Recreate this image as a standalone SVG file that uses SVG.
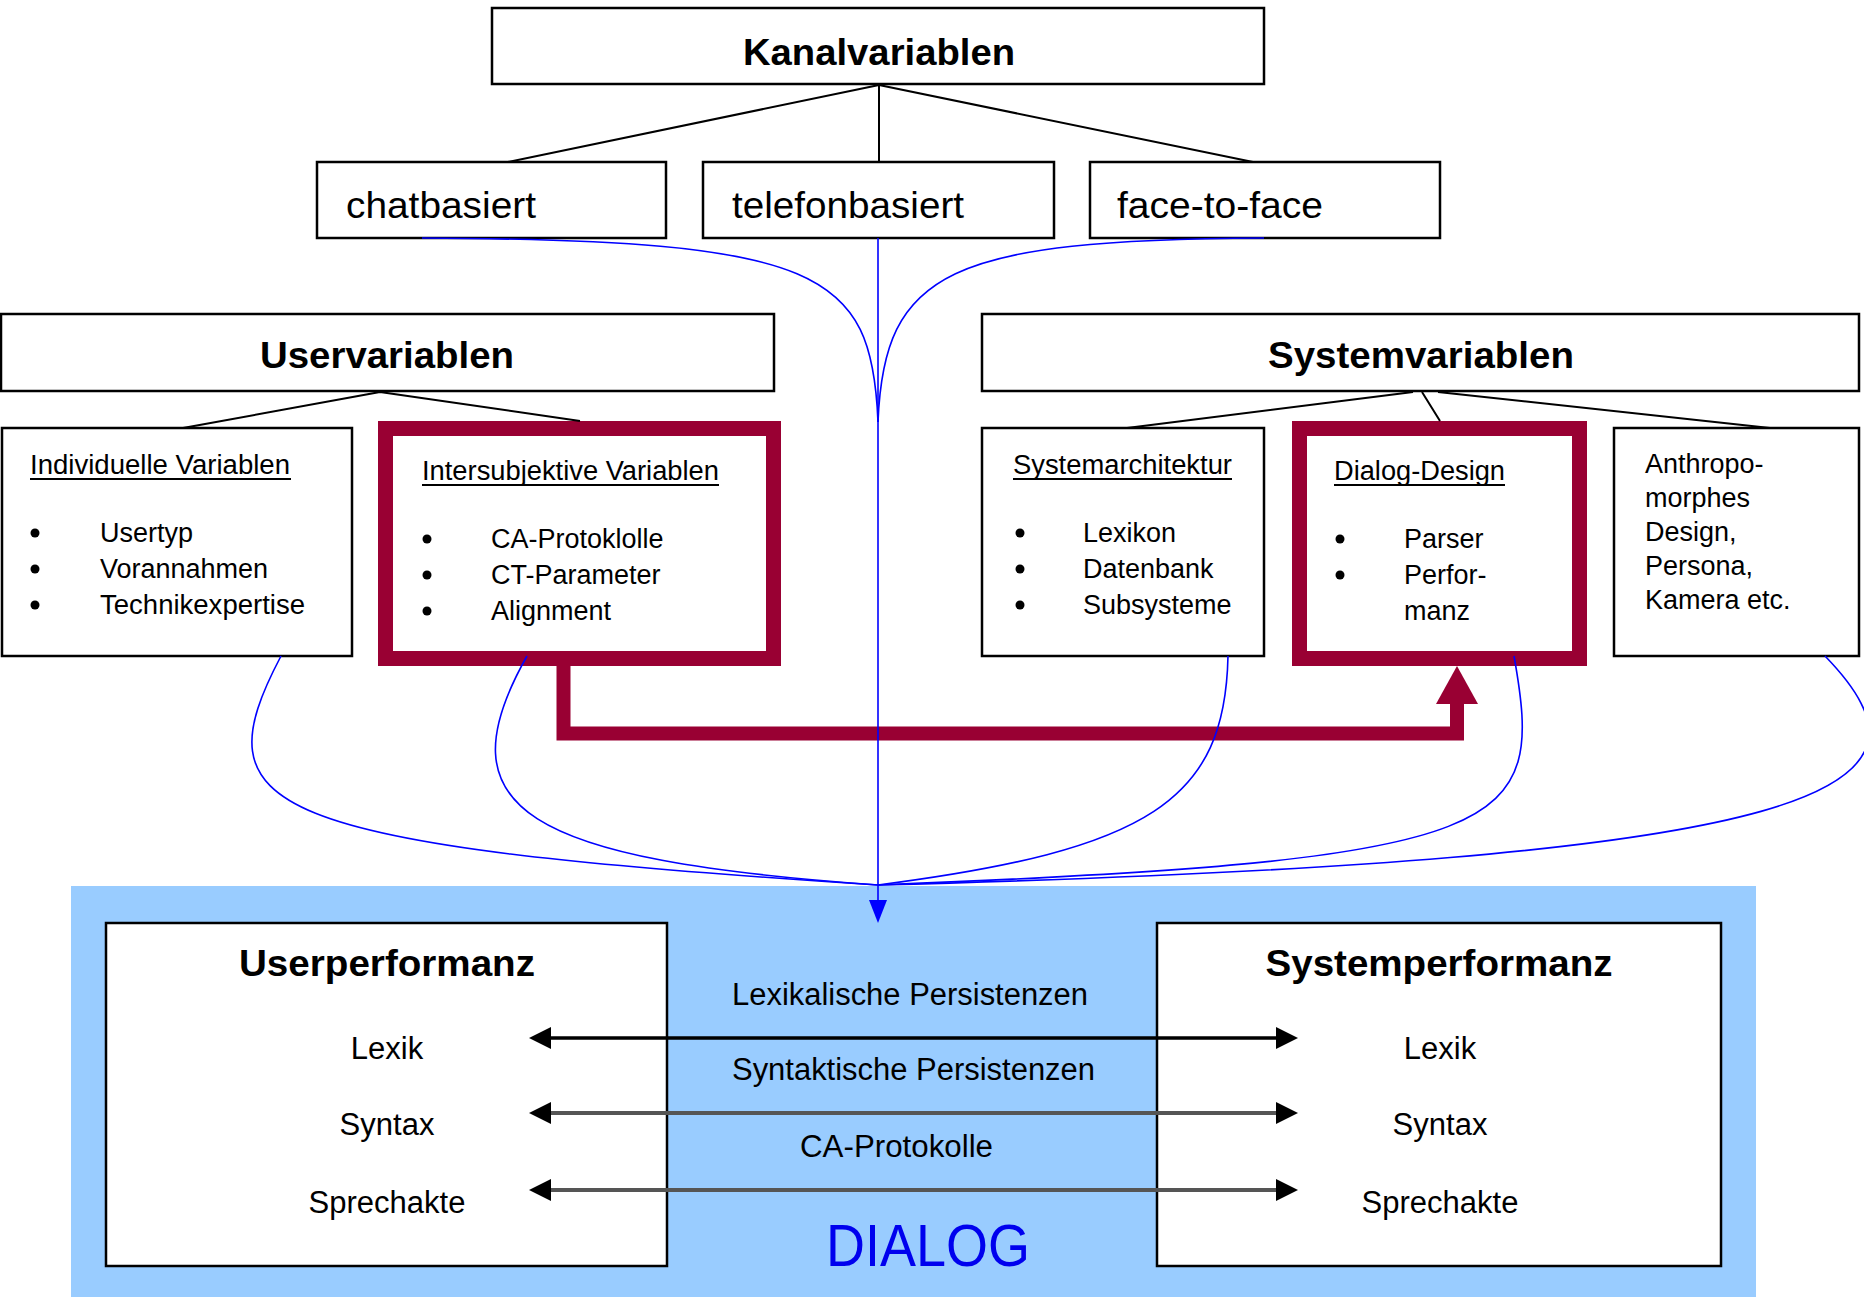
<svg xmlns="http://www.w3.org/2000/svg" width="1864" height="1297" viewBox="0 0 1864 1297">
<defs>
<style>
.box{fill:#fff;stroke:#000;stroke-width:2.5}
.red{fill:#fff;stroke:#990033;stroke-width:15}
text{font-family:"Liberation Sans",Arial,sans-serif;fill:#000}
.title{font-size:37px;font-weight:bold}
.ch{font-size:37px}
.s{font-size:27px}
.m{font-size:31px}
.ul{stroke:#000;stroke-width:2}
.tree{stroke:#000;stroke-width:2;fill:none}
.blue{stroke:#0000ff;stroke-width:1.6;fill:none}
.c{text-anchor:middle}
</style>
</defs>
<rect x="0" y="0" width="1864" height="1297" fill="#fff"/>

<g id="dialog">
<rect x="71" y="886" width="1685" height="411" fill="#99ccff"/>
<text x="826" y="1266" font-size="60" style="fill:#0000ee" textLength="204" lengthAdjust="spacingAndGlyphs">DIALOG</text>
</g>

<g id="kanalvariablen">
<rect class="box" x="492" y="8" width="772" height="76"/>
<text class="title c" x="879" y="65" textLength="272" lengthAdjust="spacingAndGlyphs">Kanalvariablen</text>
</g>
<g id="chatbasiert">
<rect class="box" x="317" y="162" width="349" height="76"/>
<text class="ch" x="346" y="218" textLength="190" lengthAdjust="spacingAndGlyphs">chatbasiert</text>
</g>
<g id="telefonbasiert">
<rect class="box" x="703" y="162" width="351" height="76"/>
<text class="ch" x="732" y="218" textLength="232" lengthAdjust="spacingAndGlyphs">telefonbasiert</text>
</g>
<g id="face-to-face">
<rect class="box" x="1090" y="162" width="350" height="76"/>
<text class="ch" x="1117" y="218" textLength="206" lengthAdjust="spacingAndGlyphs">face-to-face</text>
</g>

<g id="uservariablen">
<rect class="box" x="1" y="314" width="773" height="77"/>
<text class="title c" x="387" y="368" textLength="254" lengthAdjust="spacingAndGlyphs">Uservariablen</text>
</g>
<g id="systemvariablen">
<rect class="box" x="982" y="314" width="877" height="77"/>
<text class="title c" x="1421" y="368" textLength="306" lengthAdjust="spacingAndGlyphs">Systemvariablen</text>
</g>

<g id="individuelle">
<rect class="box" x="2" y="428" width="350" height="228"/>
<text class="s" x="30" y="474" textLength="260" lengthAdjust="spacingAndGlyphs">Individuelle Variablen</text>
<line class="ul" x1="30" y1="479" x2="291" y2="479"/>
<circle cx="35" cy="533" r="4.5"/><circle cx="35" cy="569" r="4.5"/><circle cx="35" cy="605" r="4.5"/>
<text class="s" x="100" y="542">Usertyp</text>
<text class="s" x="100" y="578">Vorannahmen</text>
<text class="s" x="100" y="614" textLength="205" lengthAdjust="spacingAndGlyphs">Technikexpertise</text>
</g>
<g id="intersubjektive">
<rect class="red" x="385.5" y="428.5" width="388" height="230"/>
<text class="s" x="422" y="480" textLength="297" lengthAdjust="spacingAndGlyphs">Intersubjektive Variablen</text>
<line class="ul" x1="422" y1="485" x2="719" y2="485"/>
<circle cx="427" cy="539" r="4.5"/><circle cx="427" cy="575" r="4.5"/><circle cx="427" cy="611" r="4.5"/>
<text class="s" x="491" y="548">CA-Protoklolle</text>
<text class="s" x="491" y="584">CT-Parameter</text>
<text class="s" x="491" y="620">Alignment</text>
</g>
<g id="systemarchitektur">
<rect class="box" x="982" y="428" width="282" height="228"/>
<text class="s" x="1013" y="474" textLength="219" lengthAdjust="spacingAndGlyphs">Systemarchitektur</text>
<line class="ul" x1="1013" y1="479" x2="1232" y2="479"/>
<circle cx="1020" cy="533" r="4.5"/><circle cx="1020" cy="569" r="4.5"/><circle cx="1020" cy="605" r="4.5"/>
<text class="s" x="1083" y="542">Lexikon</text>
<text class="s" x="1083" y="578">Datenbank</text>
<text class="s" x="1083" y="614">Subsysteme</text>
</g>
<g id="dialog-design">
<rect class="red" x="1299.5" y="428.5" width="280" height="230"/>
<text class="s" x="1334" y="480" textLength="171" lengthAdjust="spacingAndGlyphs">Dialog-Design</text>
<line class="ul" x1="1334" y1="485" x2="1505" y2="485"/>
<circle cx="1340" cy="539" r="4.5"/><circle cx="1340" cy="575" r="4.5"/>
<text class="s" x="1404" y="548">Parser</text>
<text class="s" x="1404" y="584">Perfor-</text>
<text class="s" x="1404" y="620">manz</text>
</g>
<g id="anthropomorphes">
<rect class="box" x="1614" y="428" width="245" height="228"/>
<text class="s" x="1645" y="473">Anthropo-</text>
<text class="s" x="1645" y="507">morphes</text>
<text class="s" x="1645" y="541">Design,</text>
<text class="s" x="1645" y="575">Persona,</text>
<text class="s" x="1645" y="609">Kamera etc.</text>
</g>

<g id="userperformanz">
<rect class="box" x="106" y="923" width="561" height="343"/>
<text class="title c" x="387" y="976" textLength="296" lengthAdjust="spacingAndGlyphs">Userperformanz</text>
<text class="m c" x="387" y="1059">Lexik</text>
<text class="m c" x="387" y="1135">Syntax</text>
<text class="m c" x="387" y="1213">Sprechakte</text>
</g>
<g id="systemperformanz">
<rect class="box" x="1157" y="923" width="564" height="343"/>
<text class="title c" x="1439" y="976" textLength="347" lengthAdjust="spacingAndGlyphs">Systemperformanz</text>
<text class="m c" x="1440" y="1059">Lexik</text>
<text class="m c" x="1440" y="1135">Syntax</text>
<text class="m c" x="1440" y="1213">Sprechakte</text>
</g>

<g id="connectors">
<path class="tree" d="M879,85 L508,162 M879,85 V162 M879,85 L1253,162"/>
<path class="tree" d="M380,392 L183,428 M380,392 L580,421"/>
<path class="tree" d="M1413,392 L1127,428 M1422,392 L1440,421 M1438,392 L1770,428"/>
<path d="M563.5,666 V733.5 H1457 V702" fill="none" stroke="#990033" stroke-width="14"/>
<polygon points="1436,704 1478,704 1457,666" fill="#990033"/>
<path class="blue" d="M878,238 V903"/>
<polygon points="869,900 887,900 878,923" fill="#0000ff"/>
<path class="blue" d="M422,238 C820,240 872,270 878,422"/>
<path class="blue" d="M1264,238 C950,240 884,270 878,422"/>
<path class="blue" d="M281,656 C200,810 255,845 878,885"/>
<path class="blue" d="M527,656 C440,810 525,860 878,885"/>
<path class="blue" d="M1228,656 C1225,800 1150,850 878,885"/>
<path class="blue" d="M1514,656 C1545,830 1520,860 878,885"/>
<path class="blue" d="M1825,656 C1955,790 1840,860 878,885"/>
<line x1="549" y1="1038" x2="1278" y2="1038" stroke="#000" stroke-width="3.5"/>
<polygon points="529,1038 551,1027 551,1049"/>
<polygon points="1298,1038 1276,1027 1276,1049"/>
<line x1="549" y1="1113" x2="1278" y2="1113" stroke="#555" stroke-width="4"/>
<polygon points="529,1113 551,1102 551,1124"/>
<polygon points="1298,1113 1276,1102 1276,1124"/>
<line x1="549" y1="1190" x2="1278" y2="1190" stroke="#555" stroke-width="4"/>
<polygon points="529,1190 551,1179 551,1201"/>
<polygon points="1298,1190 1276,1179 1276,1201"/>
<text class="m" x="732" y="1005" textLength="356" lengthAdjust="spacingAndGlyphs">Lexikalische Persistenzen</text>
<text class="m" x="732" y="1080" textLength="363" lengthAdjust="spacingAndGlyphs">Syntaktische Persistenzen</text>
<text class="m" x="800" y="1157" textLength="193" lengthAdjust="spacingAndGlyphs">CA-Protokolle</text>
</g>
</svg>
